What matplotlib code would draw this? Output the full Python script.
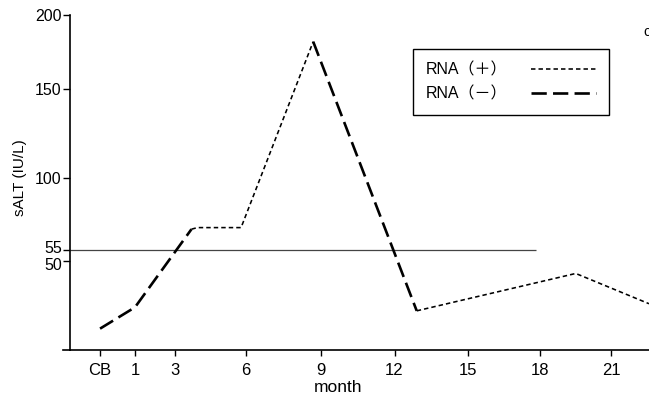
import numpy as np
import matplotlib.pyplot as plt
from matplotlib.transforms import ScaledTranslation

plt.rcParams['font.family'] = ['Liberation Sans', 'Noto Sans CJK JP', 'DejaVu Sans']
plt.rcParams['lines.scale_dashes'] = False

# months (CB = cord blood, month 0)
month_ticks = [0, 1, 3, 6, 9, 12, 15, 18, 21]
month_labels = ['CB', '1', '3', '6', '9', '12', '15', '18', '21']
alt_ticks = [50, 55, 100, 150, 200]

# RNA(-) segments
neg1_x = [0, 1, 3.7]
neg1_y = [12, 24, 68]
neg2_x = [8.7, 12.9]
neg2_y = [182, 22]
# RNA(+) segments
pos1_x = [3.7, 3.95, 5.8, 8.7]
pos1_y = [68, 69, 69, 182]
pos2_x = [12.9, 19.5, 22.6]
pos2_y = [22, 43, 26]

ref_y = 55
ref_x_end = 17.8

# the original axes are not evenly spaced: piecewise mapping
xa = np.array([-1, 0, 1, 3, 6, 9, 12, 15, 18, 21, 24])
xp = np.array([65, 100, 135, 175, 246, 321, 395, 469, 541, 612, 683], float)
ya = np.array([0, 50, 55, 100, 150, 200, 250])
yp = np.array([0, 89, 100, 172, 261, 335, 409], float)

def fx(v):
    return np.interp(v, xa, xp)

def ix(v):
    return np.interp(v, xp, xa)

def fy(v):
    return np.interp(v, ya, yp)

def iy(v):
    return np.interp(v, yp, ya)

fig = plt.figure(figsize=(6.49, 3.98), dpi=100)
ax = fig.add_axes([70 / 649, 1 - 350 / 398, 579 / 649, 335 / 398])
ax.set_xscale('function', functions=(fx, ix))
ax.set_yscale('function', functions=(fy, iy))

xmin, xmax = -0.86, 22.6
ax.set_xlim(xmin, xmax)
ax.set_ylim(0, 200)

pos_style = dict(color='black', lw=1.15, dashes=(3.2, 2.2))
neg_style = dict(color='black', lw=1.9, dashes=(11, 4.5))

ax.hlines(ref_y, xmin, ref_x_end, color='#444444', lw=0.9)

ax.plot(pos1_x, pos1_y, label='RNA（＋）', **pos_style)
ax.plot(pos2_x, pos2_y, **pos_style)
ax.plot(neg1_x, neg1_y, label='RNA（－）', **neg_style)
ax.plot(neg2_x, neg2_y, **neg_style)

ax.set_xticks(month_ticks)
ax.set_xticklabels(month_labels)
ax.set_yticks(alt_ticks)
ax.set_yticklabels([str(t) for t in alt_ticks])
ax.minorticks_off()
ax.tick_params(axis='y', direction='out', length=5, width=1, pad=1, labelsize=11.5)
ax.tick_params(axis='x', direction='out', length=4.3, width=1, pad=5, labelsize=12)

# 50 and 55 sit almost on top of each other, pull them apart a little
ylabs = ax.get_yticklabels()
ylabs[0].set_transform(ylabs[0].get_transform() + ScaledTranslation(0, -1.8 / 72, fig.dpi_scale_trans))
ylabs[1].set_transform(ylabs[1].get_transform() + ScaledTranslation(0, 2.2 / 72, fig.dpi_scale_trans))

for s in ['top', 'right']:
    ax.spines[s].set_visible(False)
for s in ['left', 'bottom']:
    ax.spines[s].set_linewidth(1.2)
# bottom axis runs a little past the y axis
ax.plot([-7 / 579, 0], [0, 0], transform=ax.transAxes, color='black', lw=1.2, clip_on=False)

ax.set_ylabel('sALT (IU/L)', fontsize=11)
ax.yaxis.set_label_coords(-0.074, 0.516)
ax.set_xlabel('month', fontsize=12.5)
ax.xaxis.set_label_coords(0.463, -0.09)

leg = ax.legend(loc='upper left', bbox_to_anchor=(0.592, 0.898), borderaxespad=0,
                markerfirst=False, fancybox=False, framealpha=1, edgecolor='black',
                fontsize=11.5, handlelength=4.1, handletextpad=1.5, labelspacing=0.6,
                borderpad=0.8)
leg.get_frame().set_linewidth(1)

fig.text(643 / 649, 1 - 32 / 398, 'c', fontsize=10.5, va='center', ha='left')

fig.savefig('out.png', dpi=100)
